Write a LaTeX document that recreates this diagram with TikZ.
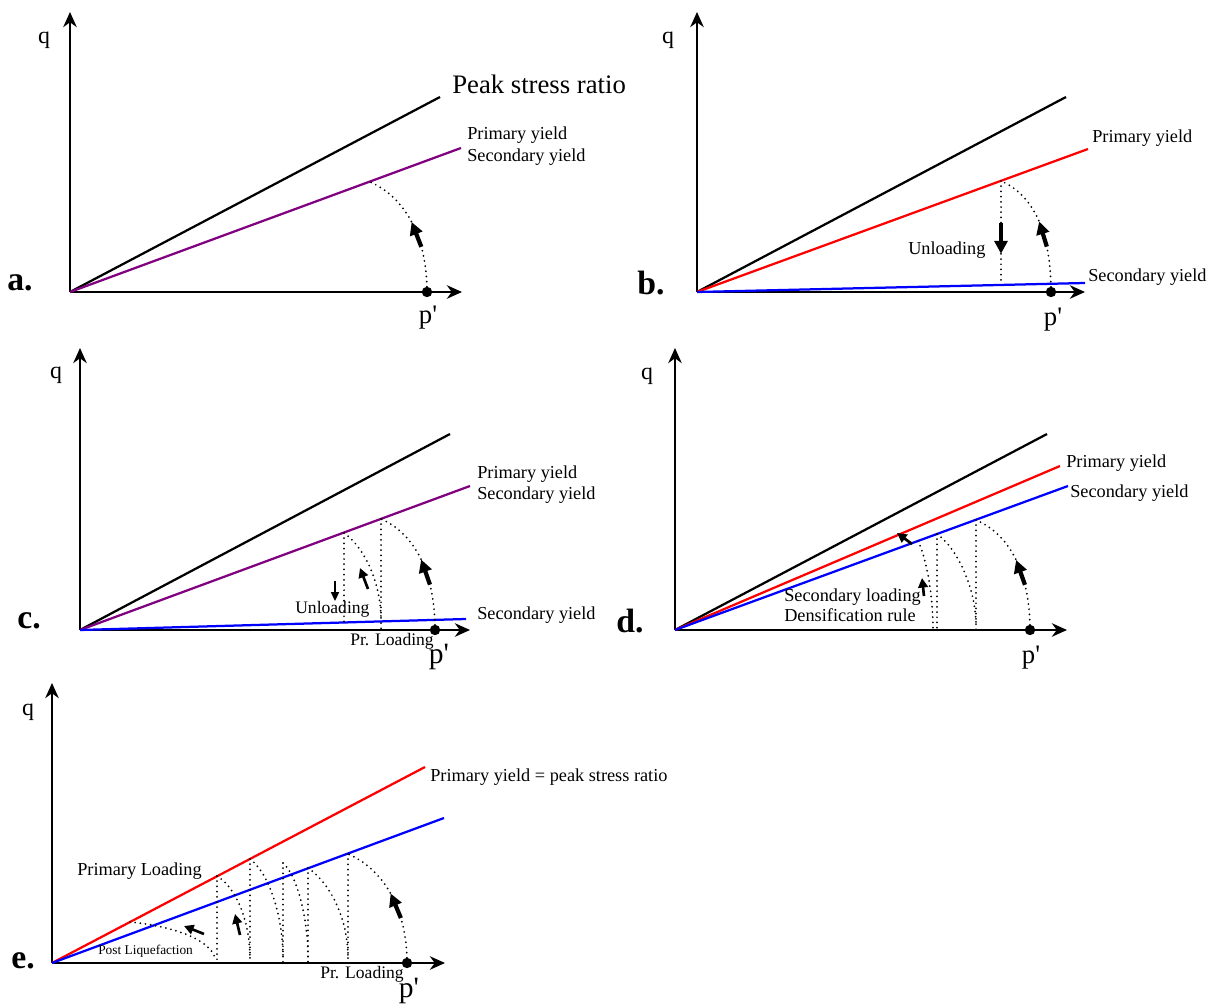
\documentclass[tikz,border=0pt]{standalone}
\usepackage{fontspec}
\setmainfont{Liberation Serif}
\definecolor{yieldpurple}{RGB}{128,0,128}
\usetikzlibrary{arrows.meta, calc}

\begin{document}
\begin{tikzpicture}[x=0.025cm, y=-0.025cm,
  axis/.style={line width=0.9pt, -{Stealth[length=3.8mm, width=3.4mm]}},
  yieldline/.style={line width=1.6pt},
  stresspath/.style={line width=1.4pt, line cap=round, dash pattern=on 0pt off 3.7pt},
  bigarrow/.style={line width=3pt, -{Triangle[length=3.2mm, width=3.2mm]}},
  midarrow/.style={line width=1.9pt, -{Triangle[length=2.4mm, width=2.4mm]}},
  thinarrow/.style={line width=1.1pt, -{Triangle[length=2.2mm, width=2mm]}},
  state/.style={circle, fill, inner sep=0pt, minimum size=2.6mm},
  lbl/.style={inner sep=0pt, anchor=west, font=\fontsize{13}{15}\selectfont},
  axlbl/.style={inner sep=0pt, font=\fontsize{17}{19}\selectfont},
  plbl/.style={inner sep=0pt, font=\fontsize{19}{21}\selectfont},
  panel/.style={inner sep=0pt, font=\fontsize{24}{26}\selectfont\bfseries}]
  \useasboundingbox (0,0) rectangle (1219,1004);

  % ---------------- a. ----------------
  \coordinate (aO) at (70,292);
  \coordinate (aY) at (70,12);
  \coordinate (aX) at (462,292);
  \coordinate (aPeak) at (440,97);
  \coordinate (aPrim) at (461,148);
  \coordinate (aB) at (370,182);
  % Axes
  \draw[axis] (aO) -- (aY);
  \draw[axis] (aO) -- (aX);
  \node[axlbl] (aq) at (44,40) {q};
  \node[plbl] (ap) at (428,318) {p\textquotesingle};
  \node[panel] (alab) at (20,283) {a.};
  % Yield lines
  \draw[yieldline] (aO) -- (aPeak);
  \draw[yieldline, yieldpurple] (aO) -- (aPrim);
  \node[lbl, font=\fontsize{19}{21}\selectfont] (aPeakL) at (452,84) {Peak stress ratio};
  \node[lbl] (aPrimL) at (467,135) {Primary yield};
  \node[lbl] (aSecL) at (467,157) {Secondary yield};
  % Loading path
  \node[state] (aP) at (427,292) {};
  \draw[stresspath] (aP.center) .. controls +(0,-55) and +(35,15) .. (aB)
    coordinate[pos=0.3] (aA1) coordinate[pos=0.5] (aA2);
  \draw[bigarrow] (aA1) -- (aA2);

  % ---------------- b. ----------------
  \coordinate (bO) at (697,292);
  \coordinate (bY) at (697,12);
  \coordinate (bX) at (1085,292);
  \coordinate (bPeak) at (1066,97);
  \coordinate (bPrim) at (1088,149);
  \coordinate (bSec) at (1085,283);
  \coordinate (bB) at (1001,181);
  \coordinate (bU) at (1001,285);
  % Axes
  \draw[axis] (bO) -- (bY);
  \draw[axis] (bO) -- (bX);
  \node[axlbl] (bq) at (668,40) {q};
  \node[plbl] (bp) at (1053,320) {p\textquotesingle};
  \node[panel] (blab) at (651,283) {b.};
  % Yield lines
  \draw[yieldline] (bO) -- (bPeak);
  \draw[yieldline, red] (bO) -- (bPrim);
  \draw[yieldline, blue] (bO) -- (bSec);
  \node[lbl] (bPrimL) at (1092,138) {Primary yield};
  \node[lbl] (bSecL) at (1088,277) {Secondary yield};
  % Loading and unloading
  \node[state] (bP) at (1051,292) {};
  \draw[stresspath] (bP.center) .. controls +(0,-55) and +(35,15) .. (bB)
    coordinate[pos=0.3] (bA1) coordinate[pos=0.5] (bA2);
  \draw[bigarrow] (bA1) -- (bA2);
  \draw[stresspath] (bB) -- (bU) coordinate[pos=0.4] (bD1) coordinate[pos=0.7] (bD2);
  \draw[bigarrow] (bD1) -- (bD2);
  \node[lbl] (bUnL) at (908,250) {Unloading};

  % ---------------- c. ----------------
  \coordinate (cO) at (80,630);
  \coordinate (cY) at (80,348);
  \coordinate (cX) at (470,630);
  \coordinate (cPeak) at (450,434);
  \coordinate (cPrim) at (470,486);
  \coordinate (cSec) at (466,619);
  \coordinate (cB) at (381,519);
  \coordinate (cB0) at (381,630);
  \coordinate (cC) at (344,533);
  \coordinate (cC0) at (344,622);
  \coordinate (cD) at (381,620);
  % Axes
  \draw[axis] (cO) -- (cY);
  \draw[axis] (cO) -- (cX);
  \node[axlbl] (cq) at (56,375) {q};
  \node[plbl, font=\fontsize{21}{23}\selectfont] (cp) at (439,657) {p\textquotesingle};
  \node[panel] (clab) at (29,621) {c.};
  % Yield lines
  \draw[yieldline] (cO) -- (cPeak);
  \draw[yieldline, yieldpurple] (cO) -- (cPrim);
  \draw[yieldline, blue] (cO) -- (cSec);
  \node[lbl] (cPrimL) at (477,474) {Primary yield};
  \node[lbl] (cSecL) at (477,495) {Secondary yield};
  \node[lbl] (cSecL2) at (477,615) {Secondary yield};
  % Cyclic paths
  \node[state] (cP) at (435,630) {};
  \draw[stresspath] (cP.center) .. controls +(0,-55) and +(35,15) .. (cB)
    coordinate[pos=0.3] (cA1) coordinate[pos=0.5] (cA2);
  \draw[bigarrow] (cA1) -- (cA2);
  \draw[stresspath] (cB) -- (cB0);
  \draw[stresspath] (cC) -- (cC0);
  \draw[stresspath] (cC) .. controls +(20,14) and +(0,-38) .. (cD);
  \coordinate (cU1) at (335,581);
  \coordinate (cU2) at (335,601);
  \draw[thinarrow] (cU1) -- (cU2);
  \coordinate (cL1) at (368,589);
  \coordinate (cL2) at (360,568);
  \draw[midarrow] (cL1) -- (cL2);
  \node[lbl, font=\fontsize{12.5}{14}\selectfont] (cUnL) at (295,609) {Unloading};
  \node[lbl, font=\fontsize{12.5}{14}\selectfont] (cPrL) at (350,641) {Pr. Loading};

  % ---------------- d. ----------------
  \coordinate (dO) at (675,630);
  \coordinate (dY) at (675,348);
  \coordinate (dX) at (1067,630);
  \coordinate (dPeak) at (1047,434);
  \coordinate (dPrim) at (1060,466);
  \coordinate (dSec) at (1068,486);
  \coordinate (dB) at (976,520);
  \coordinate (dB0) at (976,630);
  \coordinate (dC) at (937,534);
  \coordinate (dC0) at (937,630);
  \coordinate (dD) at (976,626);
  \coordinate (dF) at (918,541);
  \coordinate (dG) at (933,629);
  % Axes
  \draw[axis] (dO) -- (dY);
  \draw[axis] (dO) -- (dX);
  \node[axlbl] (dq) at (647,376) {q};
  \node[plbl] (dp) at (1031,658) {p\textquotesingle};
  \node[panel] (dlab) at (630,621) {d.};
  % Yield lines
  \draw[yieldline] (dO) -- (dPeak);
  \draw[yieldline, red] (dO) -- (dPrim);
  \draw[yieldline, blue] (dO) -- (dSec);
  \node[lbl] (dPrimL) at (1066,463) {Primary yield};
  \node[lbl] (dSecL) at (1070,493) {Secondary yield};
  % Secondary loading paths
  \node[state] (dP) at (1030,630) {};
  \draw[stresspath] (dP.center) .. controls +(0,-55) and +(35,15) .. (dB)
    coordinate[pos=0.3] (dA1) coordinate[pos=0.5] (dA2);
  \draw[bigarrow] (dA1) -- (dA2);
  \draw[stresspath] (dB) -- (dB0);
  \draw[stresspath] (dC) -- (dC0);
  \draw[stresspath] (dC) .. controls +(20,14) and +(0,-38) .. (dD);
  \draw[stresspath] (dF) .. controls +(8,16) and +(0,-35) .. (dG);
  \coordinate (dR1) at (912,544);
  \coordinate (dR2) at (897,533);
  \draw[midarrow] (dR1) -- (dR2);
  \coordinate (dS1) at (924,596);
  \coordinate (dS2) at (922,578);
  \draw[midarrow] (dS1) -- (dS2);
  \node[lbl] (dSLL) at (784,597) {Secondary loading};
  \node[lbl] (dDRL) at (784,615) {Densification rule};

  % ---------------- e. ----------------
  \coordinate (eO) at (52,963);
  \coordinate (eY) at (52,683);
  \coordinate (eX) at (445,963);
  \coordinate (ePrim) at (425,767);
  \coordinate (eSec) at (444,818);
  \coordinate (eB) at (348,854);
  \coordinate (eB0) at (348,963);
  \coordinate (eC) at (308,868);
  \coordinate (eC0) at (308,963);
  \coordinate (eC1) at (348,958);
  \coordinate (eE) at (283,863);
  \coordinate (eE0) at (283,963);
  \coordinate (eE1) at (308,958);
  \coordinate (eG) at (250,859);
  \coordinate (eG0) at (250,963);
  \coordinate (eG1) at (283,958);
  \coordinate (eI) at (217,876);
  \coordinate (eI0) at (217,963);
  \coordinate (eI1) at (250,958);
  \coordinate (eK) at (130,922);
  \coordinate (eK1) at (215,958);
  % Axes
  \draw[axis] (eO) -- (eY);
  \draw[axis] (eO) -- (eX);
  \node[axlbl] (eq) at (28,712) {q};
  \node[plbl, font=\fontsize{21}{23}\selectfont] (ep) at (409,991) {p\textquotesingle};
  \node[panel] (elab) at (23,961) {e.};
  % Yield lines
  \draw[yieldline, red] (eO) -- (ePrim);
  \draw[yieldline, blue] (eO) -- (eSec);
  \node[lbl] (ePrimL) at (430,777) {Primary yield = peak stress ratio};
  % Cyclic paths towards liquefaction
  \node[state] (eP) at (407,963) {};
  \draw[stresspath] (eP.center) .. controls +(0,-55) and +(35,15) .. (eB)
    coordinate[pos=0.3] (eA1) coordinate[pos=0.5] (eA2);
  \draw[bigarrow] (eA1) -- (eA2);
  \draw[stresspath] (eB) -- (eB0);
  \draw[stresspath] (eC) -- (eC0);
  \draw[stresspath] (eC) .. controls +(22,15) and +(0,-40) .. (eC1);
  \draw[stresspath] (eE) -- (eE0);
  \draw[stresspath] (eE) .. controls +(14,12) and +(0,-40) .. (eE1);
  \draw[stresspath] (eG) -- (eG0);
  \draw[stresspath] (eG) .. controls +(20,15) and +(0,-40) .. (eG1);
  \draw[stresspath] (eI) -- (eI0);
  \draw[stresspath] (eI) .. controls +(20,12) and +(0,-35) .. (eI1);
  \draw[stresspath] (eK) .. controls +(40,4) and +(-6,-20) .. (eK1);
  \coordinate (eL1) at (240,935);
  \coordinate (eL2) at (235,914);
  \draw[midarrow] (eL1) -- (eL2);
  \coordinate (eQ1) at (204,934);
  \coordinate (eQ2) at (184,926);
  \draw[midarrow] (eQ1) -- (eQ2);
  \node[lbl] (ePLL) at (77,871) {Primary Loading};
  \node[lbl, font=\fontsize{9.5}{11}\selectfont] (ePostL) at (98,951) {Post Liquefaction};
  \node[lbl, font=\fontsize{12.5}{14}\selectfont] (ePrL) at (320,974) {Pr. Loading};
\end{tikzpicture}
\end{document}
